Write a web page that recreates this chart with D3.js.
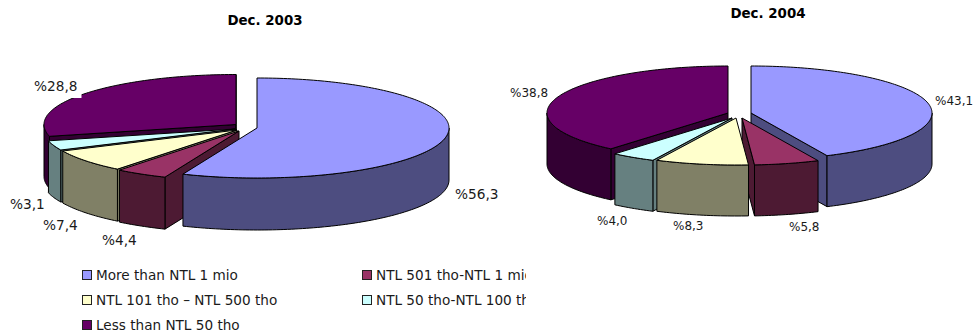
<!DOCTYPE html>
<html>
<head>
<meta charset="utf-8">
<script src="https://cdn.jsdelivr.net/npm/d3@7"></script>
<style>
    html, body { margin: 0; padding: 0; background: #fff; }
    text { font-family: "DejaVu Sans", sans-serif; fill: #1a1a1a; }
</style>
</head>
<body>
<div id="chart"></div>
<script>
const categories = ["More than NTL 1 mio", "NTL 501 tho-NTL 1 mio", "NTL 101 tho \u2013 NTL 500 tho", "NTL 50 tho-NTL 100 tho", "Less than NTL 50 tho"];
const values2003 = [56.3, 4.4, 7.4, 3.1, 28.8];
const values2004 = [43.1, 5.8, 8.3, 4.0, 38.8];
const labels2003 = ["%56,3", "%4,4", "%7,4", "%3,1", "%28,8"];
const labels2004 = ["%43,1", "%5,8", "%8,3", "%4,0", "%38,8"];

const topColors = ["#9999ff", "#993366", "#ffffcc", "#ccffff", "#660066"];
const wallColors = ["#4d4d80", "#4d1a33", "#808066", "#668080", "#330033"];

const width = 973, height = 335;

// centre of each exploded slice, and where its label sits
const layout2003 = {
    title: "Dec. 2003", titleX: 265, titleY: 25,
    rx: 192, ry: 50, depth: 52, fontSize: 13.7, labelPad: 4,
    centers: [[257, 128], [239, 131], [237, 130], [235, 129], [236, 124.5]],
    labelPos: [[455, 199], [102, 245], [43, 230], [10, 209], [34, 91]]
};
const layout2004 = {
    title: "Dec. 2004", titleX: 768, titleY: 18,
    rx: 181, ry: 47, depth: 51, fontSize: 12, labelPad: 0,
    centers: [[751, 113], [742, 118], [736, 118], [732, 118], [728, 113]],
    labelPos: [[935, 105], [789, 231], [673, 230], [597, 225], [510, 97]]
};

const svg = d3.select("#chart").append("svg")
    .attr("width", width)
    .attr("height", height)
    .style("display", "block");

function edgePoint(c, cfg, angle, drop) {
    return [c[0] + cfg.rx * Math.sin(angle), c[1] - cfg.ry * Math.cos(angle) + drop];
}

function arcPoints(c, cfg, a0, a1, drop) {
    const n = Math.max(2, Math.ceil(Math.abs(a1 - a0) / 0.02));
    return d3.range(n + 1).map(i => edgePoint(c, cfg, a0 + (a1 - a0) * i / n, drop));
}

// back to front: left slices going round, then right ones, the one over 180 deg last
function paintOrder(slices) {
    const contains = s => s.startAngle <= Math.PI && s.endAngle >= Math.PI;
    const left = slices.filter(s => !contains(s) && s.startAngle > Math.PI).sort((a, b) => b.startAngle - a.startAngle);
    const right = slices.filter(s => !contains(s) && s.endAngle < Math.PI).sort((a, b) => a.startAngle - b.startAngle);
    return left.concat(right, slices.filter(contains));
}

function Pie3D(values, labels, cfg) {
    const g = svg.append("g");
    const line = d3.line();
    const slices = d3.pie().sort(null)(values);

    paintOrder(slices).forEach(s => {
        const c = cfg.centers[s.index];
        const wall = wallColors[s.index];
        const sliceG = g.append("g").attr("stroke", "#000").attr("stroke-width", 1).attr("stroke-linejoin", "round");

        // cut faces, only the ones turned to the viewer
        [[s.startAngle, Math.sin(s.startAngle) < 0], [s.endAngle, Math.sin(s.endAngle) > 0]].forEach(([a, visible]) => {
            if (!visible) return;
            const p = edgePoint(c, cfg, a, 0);
            const q = edgePoint(c, cfg, a, cfg.depth);
            sliceG.append("path")
                .attr("d", line([c, p, q, [c[0], c[1] + cfg.depth]]) + "Z")
                .attr("fill", wall);
        });

        // outer wall, front half of the rim only
        const a0 = Math.max(s.startAngle, Math.PI / 2);
        const a1 = Math.min(s.endAngle, Math.PI * 1.5);
        if (a1 > a0) {
            const pts = arcPoints(c, cfg, a0, a1, 0).concat(arcPoints(c, cfg, a1, a0, cfg.depth));
            sliceG.append("path").attr("d", line(pts) + "Z").attr("fill", wall);
        }

        sliceG.append("path")
            .attr("d", line([c].concat(arcPoints(c, cfg, s.startAngle, s.endAngle, 0))) + "Z")
            .attr("fill", topColors[s.index]);
    });

    svg.append("text")
        .attr("x", cfg.titleX)
        .attr("y", cfg.titleY)
        .attr("text-anchor", "middle")
        .attr("font-size", 13.4)
        .attr("font-weight", "bold")
        .style("fill", "#000")
        .text(cfg.title);

    labels.forEach((d, i) => {
        const bg = svg.append("rect").attr("fill", "#fff");
        const t = svg.append("text")
            .attr("x", cfg.labelPos[i][0])
            .attr("y", cfg.labelPos[i][1])
            .attr("font-size", cfg.fontSize)
            .text(d);
        // label boxes are opaque, this is what bites into the 28,8 slice
        const b = t.node().getBBox();
        bg.attr("x", b.x).attr("y", b.y).attr("width", b.width + cfg.labelPad).attr("height", b.height + cfg.labelPad);
    });
}

function Legend() {
    svg.append("defs").append("clipPath").attr("id", "legendClip")
        .append("rect").attr("x", 0).attr("y", 255).attr("width", 526).attr("height", 80);

    const col = d3.scalePoint().domain([0, 1]).range([82, 362]);
    const row = d3.scalePoint().domain([0, 1, 2]).range([275, 325]);

    const item = svg.append("g").attr("clip-path", "url(#legendClip)")
        .selectAll("g")
        .data(categories)
        .join("g")
        .attr("transform", (d, i) => `translate(${col(i % 2)},${row(Math.floor(i / 2))})`);

    item.append("rect")
        .attr("x", 0.5)
        .attr("y", -4.5)
        .attr("width", 9)
        .attr("height", 9)
        .attr("fill", (d, i) => topColors[i])
        .attr("stroke", "#222");

    item.append("text")
        .attr("x", 14)
        .attr("dy", "0.35em")
        .attr("font-size", 13.6)
        .text(d => d);
}

Pie3D(values2003, labels2003, layout2003);
Pie3D(values2004, labels2004, layout2004);
Legend();
</script>
</body>
</html>
